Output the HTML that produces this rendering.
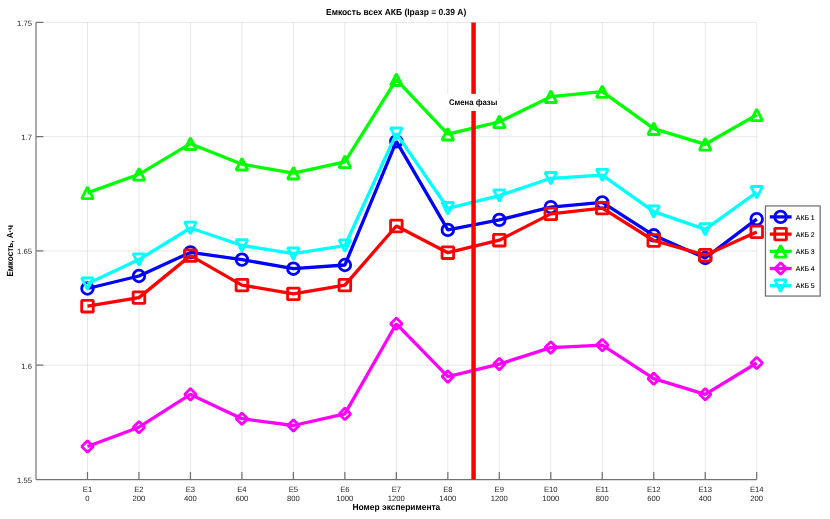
<!DOCTYPE html>
<html lang="ru"><head><meta charset="utf-8"><title>Емкость всех АКБ</title>
<style>html,body{margin:0;padding:0;background:#fff;overflow:hidden}svg{display:block}text{font-family:"Liberation Sans",sans-serif;text-rendering:geometricPrecision}.t{font-size:7.67px;fill:#262626}.b{font-size:8.9px;font-weight:bold;fill:#000}.l{font-size:6.9px;fill:#000;stroke:#000;stroke-width:0.12px}</style></head><body>
<svg width="830" height="519" viewBox="0 0 830 519">
<rect width="830" height="519" fill="#fff"/>
<path d="M87.48 22.45V479.5M138.96 22.45V479.5M190.44 22.45V479.5M241.91 22.45V479.5M293.39 22.45V479.5M344.87 22.45V479.5M396.35 22.45V479.5M447.83 22.45V479.5M499.31 22.45V479.5M550.79 22.45V479.5M602.26 22.45V479.5M653.74 22.45V479.5M705.22 22.45V479.5M756.70 22.45V479.5M36.0 479.50H756.7M36.0 365.24H756.7M36.0 250.97H756.7M36.0 136.71H756.7M36.0 22.45H756.7" stroke="#262626" stroke-opacity="0.135" stroke-width="0.8" fill="none"/>
<path d="M36.0 22.45V479.5M36.0 479.5H756.7M87.48 479.5v-7.4M138.96 479.5v-7.4M190.44 479.5v-7.4M241.91 479.5v-7.4M293.39 479.5v-7.4M344.87 479.5v-7.4M396.35 479.5v-7.4M447.83 479.5v-7.4M499.31 479.5v-7.4M550.79 479.5v-7.4M602.26 479.5v-7.4M653.74 479.5v-7.4M705.22 479.5v-7.4M756.70 479.5v-7.4M36.0 479.50h7.4M36.0 365.24h7.4M36.0 250.97h7.4M36.0 136.71h7.4M36.0 22.45h7.4" stroke="#262626" stroke-opacity="0.62" stroke-width="1.25" fill="none"/>
<polyline points="87.48,288.50 138.96,276.00 190.44,252.40 241.91,259.60 293.39,268.70 344.87,265.00 396.35,141.40 447.83,229.90 499.31,219.90 550.79,207.20 602.26,202.40 653.74,235.30 705.22,258.00 756.70,219.10" fill="none" stroke="#0000ff" stroke-width="3.3" stroke-linejoin="bevel"/>
<circle cx="87.48" cy="288.50" r="5.80" fill="none" stroke="#0000ff" stroke-width="2.8" stroke-linejoin="bevel"/>
<circle cx="138.96" cy="276.00" r="5.80" fill="none" stroke="#0000ff" stroke-width="2.8" stroke-linejoin="bevel"/>
<circle cx="190.44" cy="252.40" r="5.80" fill="none" stroke="#0000ff" stroke-width="2.8" stroke-linejoin="bevel"/>
<circle cx="241.91" cy="259.60" r="5.80" fill="none" stroke="#0000ff" stroke-width="2.8" stroke-linejoin="bevel"/>
<circle cx="293.39" cy="268.70" r="5.80" fill="none" stroke="#0000ff" stroke-width="2.8" stroke-linejoin="bevel"/>
<circle cx="344.87" cy="265.00" r="5.80" fill="none" stroke="#0000ff" stroke-width="2.8" stroke-linejoin="bevel"/>
<circle cx="396.35" cy="141.40" r="5.80" fill="none" stroke="#0000ff" stroke-width="2.8" stroke-linejoin="bevel"/>
<circle cx="447.83" cy="229.90" r="5.80" fill="none" stroke="#0000ff" stroke-width="2.8" stroke-linejoin="bevel"/>
<circle cx="499.31" cy="219.90" r="5.80" fill="none" stroke="#0000ff" stroke-width="2.8" stroke-linejoin="bevel"/>
<circle cx="550.79" cy="207.20" r="5.80" fill="none" stroke="#0000ff" stroke-width="2.8" stroke-linejoin="bevel"/>
<circle cx="602.26" cy="202.40" r="5.80" fill="none" stroke="#0000ff" stroke-width="2.8" stroke-linejoin="bevel"/>
<circle cx="653.74" cy="235.30" r="5.80" fill="none" stroke="#0000ff" stroke-width="2.8" stroke-linejoin="bevel"/>
<circle cx="705.22" cy="258.00" r="5.80" fill="none" stroke="#0000ff" stroke-width="2.8" stroke-linejoin="bevel"/>
<circle cx="756.70" cy="219.10" r="5.80" fill="none" stroke="#0000ff" stroke-width="2.8" stroke-linejoin="bevel"/>
<polyline points="87.48,306.20 138.96,297.60 190.44,255.60 241.91,285.10 293.39,293.90 344.87,285.10 396.35,226.00 447.83,252.70 499.31,240.20 550.79,213.90 602.26,208.10 653.74,240.50 705.22,255.20 756.70,231.90" fill="none" stroke="#ff0000" stroke-width="3.3" stroke-linejoin="bevel"/>
<rect x="81.68" y="300.40" width="11.6" height="11.6" fill="none" stroke="#ff0000" stroke-width="2.8" stroke-linejoin="bevel"/>
<rect x="133.16" y="291.80" width="11.6" height="11.6" fill="none" stroke="#ff0000" stroke-width="2.8" stroke-linejoin="bevel"/>
<rect x="184.64" y="249.80" width="11.6" height="11.6" fill="none" stroke="#ff0000" stroke-width="2.8" stroke-linejoin="bevel"/>
<rect x="236.11" y="279.30" width="11.6" height="11.6" fill="none" stroke="#ff0000" stroke-width="2.8" stroke-linejoin="bevel"/>
<rect x="287.59" y="288.10" width="11.6" height="11.6" fill="none" stroke="#ff0000" stroke-width="2.8" stroke-linejoin="bevel"/>
<rect x="339.07" y="279.30" width="11.6" height="11.6" fill="none" stroke="#ff0000" stroke-width="2.8" stroke-linejoin="bevel"/>
<rect x="390.55" y="220.20" width="11.6" height="11.6" fill="none" stroke="#ff0000" stroke-width="2.8" stroke-linejoin="bevel"/>
<rect x="442.03" y="246.90" width="11.6" height="11.6" fill="none" stroke="#ff0000" stroke-width="2.8" stroke-linejoin="bevel"/>
<rect x="493.51" y="234.40" width="11.6" height="11.6" fill="none" stroke="#ff0000" stroke-width="2.8" stroke-linejoin="bevel"/>
<rect x="544.99" y="208.10" width="11.6" height="11.6" fill="none" stroke="#ff0000" stroke-width="2.8" stroke-linejoin="bevel"/>
<rect x="596.46" y="202.30" width="11.6" height="11.6" fill="none" stroke="#ff0000" stroke-width="2.8" stroke-linejoin="bevel"/>
<rect x="647.94" y="234.70" width="11.6" height="11.6" fill="none" stroke="#ff0000" stroke-width="2.8" stroke-linejoin="bevel"/>
<rect x="699.42" y="249.40" width="11.6" height="11.6" fill="none" stroke="#ff0000" stroke-width="2.8" stroke-linejoin="bevel"/>
<rect x="750.90" y="226.10" width="11.6" height="11.6" fill="none" stroke="#ff0000" stroke-width="2.8" stroke-linejoin="bevel"/>
<polyline points="87.48,192.90 138.96,174.30 190.44,143.70 241.91,164.20 293.39,173.20 344.87,161.80 396.35,79.70 447.83,134.20 499.31,121.80 550.79,96.70 602.26,91.60 653.74,128.70 705.22,144.30 756.70,114.90" fill="none" stroke="#00ff00" stroke-width="3.3" stroke-linejoin="bevel"/>
<path d="M87.48 187.10L93.28 198.70L81.68 198.70Z" fill="none" stroke="#00ff00" stroke-width="2.8" stroke-linejoin="bevel"/>
<path d="M138.96 168.50L144.76 180.10L133.16 180.10Z" fill="none" stroke="#00ff00" stroke-width="2.8" stroke-linejoin="bevel"/>
<path d="M190.44 137.90L196.24 149.50L184.64 149.50Z" fill="none" stroke="#00ff00" stroke-width="2.8" stroke-linejoin="bevel"/>
<path d="M241.91 158.40L247.71 170.00L236.11 170.00Z" fill="none" stroke="#00ff00" stroke-width="2.8" stroke-linejoin="bevel"/>
<path d="M293.39 167.40L299.19 179.00L287.59 179.00Z" fill="none" stroke="#00ff00" stroke-width="2.8" stroke-linejoin="bevel"/>
<path d="M344.87 156.00L350.67 167.60L339.07 167.60Z" fill="none" stroke="#00ff00" stroke-width="2.8" stroke-linejoin="bevel"/>
<path d="M396.35 73.90L402.15 85.50L390.55 85.50Z" fill="none" stroke="#00ff00" stroke-width="2.8" stroke-linejoin="bevel"/>
<path d="M447.83 128.40L453.63 140.00L442.03 140.00Z" fill="none" stroke="#00ff00" stroke-width="2.8" stroke-linejoin="bevel"/>
<path d="M499.31 116.00L505.11 127.60L493.51 127.60Z" fill="none" stroke="#00ff00" stroke-width="2.8" stroke-linejoin="bevel"/>
<path d="M550.79 90.90L556.59 102.50L544.99 102.50Z" fill="none" stroke="#00ff00" stroke-width="2.8" stroke-linejoin="bevel"/>
<path d="M602.26 85.80L608.06 97.40L596.46 97.40Z" fill="none" stroke="#00ff00" stroke-width="2.8" stroke-linejoin="bevel"/>
<path d="M653.74 122.90L659.54 134.50L647.94 134.50Z" fill="none" stroke="#00ff00" stroke-width="2.8" stroke-linejoin="bevel"/>
<path d="M705.22 138.50L711.02 150.10L699.42 150.10Z" fill="none" stroke="#00ff00" stroke-width="2.8" stroke-linejoin="bevel"/>
<path d="M756.70 109.10L762.50 120.70L750.90 120.70Z" fill="none" stroke="#00ff00" stroke-width="2.8" stroke-linejoin="bevel"/>
<polyline points="87.48,446.50 138.96,427.20 190.44,394.40 241.91,418.70 293.39,425.50 344.87,413.90 396.35,323.80 447.83,376.60 499.31,364.10 550.79,347.60 602.26,345.10 653.74,378.70 705.22,394.30 756.70,363.00" fill="none" stroke="#ff00ff" stroke-width="3.3" stroke-linejoin="bevel"/>
<path d="M87.48 440.70L93.28 446.50L87.48 452.30L81.68 446.50Z" fill="none" stroke="#ff00ff" stroke-width="2.8" stroke-linejoin="bevel"/>
<path d="M138.96 421.40L144.76 427.20L138.96 433.00L133.16 427.20Z" fill="none" stroke="#ff00ff" stroke-width="2.8" stroke-linejoin="bevel"/>
<path d="M190.44 388.60L196.24 394.40L190.44 400.20L184.64 394.40Z" fill="none" stroke="#ff00ff" stroke-width="2.8" stroke-linejoin="bevel"/>
<path d="M241.91 412.90L247.71 418.70L241.91 424.50L236.11 418.70Z" fill="none" stroke="#ff00ff" stroke-width="2.8" stroke-linejoin="bevel"/>
<path d="M293.39 419.70L299.19 425.50L293.39 431.30L287.59 425.50Z" fill="none" stroke="#ff00ff" stroke-width="2.8" stroke-linejoin="bevel"/>
<path d="M344.87 408.10L350.67 413.90L344.87 419.70L339.07 413.90Z" fill="none" stroke="#ff00ff" stroke-width="2.8" stroke-linejoin="bevel"/>
<path d="M396.35 318.00L402.15 323.80L396.35 329.60L390.55 323.80Z" fill="none" stroke="#ff00ff" stroke-width="2.8" stroke-linejoin="bevel"/>
<path d="M447.83 370.80L453.63 376.60L447.83 382.40L442.03 376.60Z" fill="none" stroke="#ff00ff" stroke-width="2.8" stroke-linejoin="bevel"/>
<path d="M499.31 358.30L505.11 364.10L499.31 369.90L493.51 364.10Z" fill="none" stroke="#ff00ff" stroke-width="2.8" stroke-linejoin="bevel"/>
<path d="M550.79 341.80L556.59 347.60L550.79 353.40L544.99 347.60Z" fill="none" stroke="#ff00ff" stroke-width="2.8" stroke-linejoin="bevel"/>
<path d="M602.26 339.30L608.06 345.10L602.26 350.90L596.46 345.10Z" fill="none" stroke="#ff00ff" stroke-width="2.8" stroke-linejoin="bevel"/>
<path d="M653.74 372.90L659.54 378.70L653.74 384.50L647.94 378.70Z" fill="none" stroke="#ff00ff" stroke-width="2.8" stroke-linejoin="bevel"/>
<path d="M705.22 388.50L711.02 394.30L705.22 400.10L699.42 394.30Z" fill="none" stroke="#ff00ff" stroke-width="2.8" stroke-linejoin="bevel"/>
<path d="M756.70 357.20L762.50 363.00L756.70 368.80L750.90 363.00Z" fill="none" stroke="#ff00ff" stroke-width="2.8" stroke-linejoin="bevel"/>
<polyline points="87.48,283.70 138.96,259.60 190.44,228.00 241.91,245.50 293.39,253.70 344.87,245.70 396.35,133.60 447.83,208.30 499.31,195.60 550.79,178.30 602.26,175.10 653.74,211.60 705.22,229.40 756.70,192.30" fill="none" stroke="#00ffff" stroke-width="3.3" stroke-linejoin="bevel"/>
<path d="M87.48 289.50L93.28 277.90L81.68 277.90Z" fill="none" stroke="#00ffff" stroke-width="2.8" stroke-linejoin="bevel"/>
<path d="M138.96 265.40L144.76 253.80L133.16 253.80Z" fill="none" stroke="#00ffff" stroke-width="2.8" stroke-linejoin="bevel"/>
<path d="M190.44 233.80L196.24 222.20L184.64 222.20Z" fill="none" stroke="#00ffff" stroke-width="2.8" stroke-linejoin="bevel"/>
<path d="M241.91 251.30L247.71 239.70L236.11 239.70Z" fill="none" stroke="#00ffff" stroke-width="2.8" stroke-linejoin="bevel"/>
<path d="M293.39 259.50L299.19 247.90L287.59 247.90Z" fill="none" stroke="#00ffff" stroke-width="2.8" stroke-linejoin="bevel"/>
<path d="M344.87 251.50L350.67 239.90L339.07 239.90Z" fill="none" stroke="#00ffff" stroke-width="2.8" stroke-linejoin="bevel"/>
<path d="M396.35 139.40L402.15 127.80L390.55 127.80Z" fill="none" stroke="#00ffff" stroke-width="2.8" stroke-linejoin="bevel"/>
<path d="M447.83 214.10L453.63 202.50L442.03 202.50Z" fill="none" stroke="#00ffff" stroke-width="2.8" stroke-linejoin="bevel"/>
<path d="M499.31 201.40L505.11 189.80L493.51 189.80Z" fill="none" stroke="#00ffff" stroke-width="2.8" stroke-linejoin="bevel"/>
<path d="M550.79 184.10L556.59 172.50L544.99 172.50Z" fill="none" stroke="#00ffff" stroke-width="2.8" stroke-linejoin="bevel"/>
<path d="M602.26 180.90L608.06 169.30L596.46 169.30Z" fill="none" stroke="#00ffff" stroke-width="2.8" stroke-linejoin="bevel"/>
<path d="M653.74 217.40L659.54 205.80L647.94 205.80Z" fill="none" stroke="#00ffff" stroke-width="2.8" stroke-linejoin="bevel"/>
<path d="M705.22 235.20L711.02 223.60L699.42 223.60Z" fill="none" stroke="#00ffff" stroke-width="2.8" stroke-linejoin="bevel"/>
<path d="M756.70 198.10L762.50 186.50L750.90 186.50Z" fill="none" stroke="#00ffff" stroke-width="2.8" stroke-linejoin="bevel"/>
<path d="M473.57 22.45V479.5" stroke="#ff0000" stroke-width="4.5" fill="none"/>
<rect x="446.5" y="93.9" width="54" height="17.1" fill="#fff"/>
<text class="b" x="473.1" y="104.9" text-anchor="middle" style="font-size:8.2px" textLength="48.4" lengthAdjust="spacingAndGlyphs">Смена фазы</text>
<text class="t" x="32" y="482.90" text-anchor="end">1.55</text>
<text class="t" x="32" y="368.64" text-anchor="end">1.6</text>
<text class="t" x="32" y="254.38" text-anchor="end">1.65</text>
<text class="t" x="32" y="140.11" text-anchor="end">1.7</text>
<text class="t" x="32" y="25.85" text-anchor="end">1.75</text>
<text class="t" x="87.48" y="491.8" text-anchor="middle">E1</text>
<text class="t" x="87.48" y="500.6" text-anchor="middle">0</text>
<text class="t" x="138.96" y="491.8" text-anchor="middle">E2</text>
<text class="t" x="138.96" y="500.6" text-anchor="middle">200</text>
<text class="t" x="190.44" y="491.8" text-anchor="middle">E3</text>
<text class="t" x="190.44" y="500.6" text-anchor="middle">400</text>
<text class="t" x="241.91" y="491.8" text-anchor="middle">E4</text>
<text class="t" x="241.91" y="500.6" text-anchor="middle">600</text>
<text class="t" x="293.39" y="491.8" text-anchor="middle">E5</text>
<text class="t" x="293.39" y="500.6" text-anchor="middle">800</text>
<text class="t" x="344.87" y="491.8" text-anchor="middle">E6</text>
<text class="t" x="344.87" y="500.6" text-anchor="middle">1000</text>
<text class="t" x="396.35" y="491.8" text-anchor="middle">E7</text>
<text class="t" x="396.35" y="500.6" text-anchor="middle">1200</text>
<text class="t" x="447.83" y="491.8" text-anchor="middle">E8</text>
<text class="t" x="447.83" y="500.6" text-anchor="middle">1400</text>
<text class="t" x="499.31" y="491.8" text-anchor="middle">E9</text>
<text class="t" x="499.31" y="500.6" text-anchor="middle">1200</text>
<text class="t" x="550.79" y="491.8" text-anchor="middle">E10</text>
<text class="t" x="550.79" y="500.6" text-anchor="middle">1000</text>
<text class="t" x="602.26" y="491.8" text-anchor="middle">E11</text>
<text class="t" x="602.26" y="500.6" text-anchor="middle">800</text>
<text class="t" x="653.74" y="491.8" text-anchor="middle">E12</text>
<text class="t" x="653.74" y="500.6" text-anchor="middle">600</text>
<text class="t" x="705.22" y="491.8" text-anchor="middle">E13</text>
<text class="t" x="705.22" y="500.6" text-anchor="middle">400</text>
<text class="t" x="756.70" y="491.8" text-anchor="middle">E14</text>
<text class="t" x="756.70" y="500.6" text-anchor="middle">200</text>
<text class="b" x="396.15" y="15" text-anchor="middle" textLength="140.3" lengthAdjust="spacingAndGlyphs">Емкость всех АКБ (Iразр = 0.39 А)</text>
<text class="b" x="396.4" y="509.9" text-anchor="middle" textLength="87.8" lengthAdjust="spacingAndGlyphs">Номер эксперимента</text>
<text class="b" transform="translate(13.2 250.78) rotate(-90)" text-anchor="middle" textLength="51.6" lengthAdjust="spacingAndGlyphs">Емкость, А·ч</text>
<rect x="765.45" y="205.95" width="54.7" height="90.1" fill="#fff" stroke="#262626" stroke-opacity="0.66" stroke-width="1.25"/>
<path d="M769.8 216.90H791.6" stroke="#0000ff" stroke-width="3.3" fill="none"/>
<circle cx="780.60" cy="216.90" r="5.80" fill="none" stroke="#0000ff" stroke-width="2.8" stroke-linejoin="bevel"/>
<text class="l" x="795.8" y="219.60">АКБ 1</text>
<path d="M769.8 234.10H791.6" stroke="#ff0000" stroke-width="3.3" fill="none"/>
<rect x="774.80" y="228.30" width="11.6" height="11.6" fill="none" stroke="#ff0000" stroke-width="2.8" stroke-linejoin="bevel"/>
<text class="l" x="795.8" y="236.80">АКБ 2</text>
<path d="M769.8 251.30H791.6" stroke="#00ff00" stroke-width="3.3" fill="none"/>
<path d="M780.60 245.50L786.40 257.10L774.80 257.10Z" fill="none" stroke="#00ff00" stroke-width="2.8" stroke-linejoin="bevel"/>
<text class="l" x="795.8" y="254.00">АКБ 3</text>
<path d="M769.8 268.50H791.6" stroke="#ff00ff" stroke-width="3.3" fill="none"/>
<path d="M780.60 262.70L786.40 268.50L780.60 274.30L774.80 268.50Z" fill="none" stroke="#ff00ff" stroke-width="2.8" stroke-linejoin="bevel"/>
<text class="l" x="795.8" y="271.20">АКБ 4</text>
<path d="M769.8 285.70H791.6" stroke="#00ffff" stroke-width="3.3" fill="none"/>
<path d="M780.60 291.50L786.40 279.90L774.80 279.90Z" fill="none" stroke="#00ffff" stroke-width="2.8" stroke-linejoin="bevel"/>
<text class="l" x="795.8" y="288.40">АКБ 5</text>
</svg></body></html>
